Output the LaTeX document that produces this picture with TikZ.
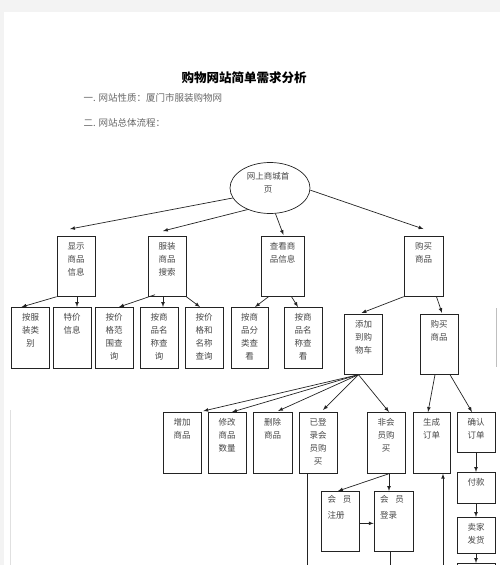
\documentclass[tikz,border=0pt]{standalone}
\usepackage{fontspec}
\newfontfamily\cjk{Noto Sans CJK SC}
\usepackage{tikz}
\usetikzlibrary{shapes,arrows,positioning,calc}
\definecolor{ink}{RGB}{35,35,35}
\definecolor{txt}{RGB}{70,70,70}
\definecolor{paper}{RGB}{243,243,243}

\begin{document}
\begin{tikzpicture}[x=1pt,y=-1pt,
        cell/.style={draw=ink, line width=0.7pt, anchor=north, align=center,
                     inner sep=0pt, text width=38pt, text height=13pt,
                     text depth=#1, text=txt,
                     font=\cjk\fontsize{8.5}{13}\selectfont},
        cell/.default=47pt,
        member/.style={cell, align=left, text width=26pt, inner xsep=6pt,
                       text height=11pt, text depth=49pt,
                       font=\cjk\fontsize{8.5}{16}\selectfont},
        link/.style={draw=ink, line width=0.7pt, -latex}]
    \useasboundingbox (0,0) rectangle (500,565);
    \clip (0,0) rectangle (500,565);
    % page
    \fill[paper] (0,0) rectangle (500,12);
    \fill[paper] (0,0) rectangle (4,565);
    \draw[black!12, line width=1pt] (10,410) -- (10,565);
    \draw[black!25, line width=1pt] (496,308) -- (496,367);

    % heading
    \node[font=\cjk\bfseries\fontsize{12.5}{14}\selectfont, text=black] (title) at (244,78) {购物网站简单需求分析};
    \node[anchor=west, font=\cjk\fontsize{9.5}{11}\selectfont, text=black!60] (nature) at (80,98) {一. 网站性质：厦门市服装购物网};
    \node[anchor=west, font=\cjk\fontsize{9.5}{11}\selectfont, text=black!60] (flow) at (80,123) {二. 网站总体流程：};

    % home page
    \node[draw=ink, line width=0.7pt, ellipse, minimum width=80pt, minimum height=51pt, inner sep=0pt] (home) at (270,188) {};
    \node[align=center, text=txt, font=\cjk\fontsize{8.5}{13}\selectfont] (hometext) at (268,182.5) {网上商城首\\页};

    % first level
    \node[cell] (show) at (76,236) {显示\\商品\\信息};
    \node[cell] (search) at (167,236) {服装\\商品\\搜索};
    \node[cell, text width=43pt] (view) at (282.5,236) {查看商\\品信息};
    \node[cell, text width=39pt] (buy) at (423.5,236) {购买\\商品};

    % second level
    \node[cell=48pt] (cat) at (30.5,307) {按服\\装类\\别};
    \node[cell=48pt] (sale) at (72,307) {特价\\信息};
    \node[cell=48pt] (price) at (114,307) {按价\\格范\\围查\\询};
    \node[cell=48pt] (name) at (159,307) {按商\\品名\\称查\\询};
    \node[cell=48pt] (both) at (204,307) {按价\\格和\\名称\\查询};
    \node[cell=48pt, text width=37pt] (vcat) at (249.5,307) {按商\\品分\\类查\\看};
    \node[cell=48pt] (vname) at (303,307) {按商\\品名\\称查\\看};
    \node[cell] (cart) at (363.5,314) {添加\\到购\\物车};
    \node[cell] (buytwo) at (439,314) {购买\\商品};

    % third level
    \node[cell=48pt] (add) at (182,412) {增加\\商品};
    \node[cell=48pt] (edit) at (227,412) {修改\\商品\\数量};
    \node[cell=48pt, text width=39pt] (del) at (272.5,412) {删除\\商品};
    \node[cell=48pt] (logged) at (318,412) {已登\\录会\\员购\\买};
    \node[cell=48pt] (guest) at (386,412) {非会\\员购\\买};
    \node[cell=48pt, text width=37pt] (order) at (431.5,412) {生成\\订单};
    \node[cell=27pt] (confirm) at (476,412) {确认\\订单};
    \node[cell=18pt] (pay) at (476,472) {付款};
    \node[cell=23pt] (ship) at (476,517) {卖家\\发货};
    \node[cell=40pt] (next) at (476,563) {};

    % members
    \node[member] (reg) at (340.5,491) {会\hspace{7pt}员\\注册};
    \node[member, text width=27pt] (login) at (393.5,491) {会\hspace{7pt}员\\登录};

    \coordinate (downA) at (307,570);
    \coordinate (downB) at (390,570);
    \coordinate (upC) at (443,570);

    % home page links
    \draw[link] (home.195) to ($(show.north)+(-6,-7)$);
    \draw[link] (home.224) to ($(search.north)+(-4,-5)$);
    \draw[link] (home.282) to ($(view.north)+(1,-1)$);
    \draw[link] (home.357) to ($(buy.north)+(0,-7)$);

    % first level links
    \draw[link] (show.south west) to ($(cat.north)+(-9,0)$);
    \draw[link] ($(show.south)+(1,0)$) to ($(sale.north)+(5,0)$);
    \draw[link] ($(search.south)+(-12,-2)$) to ($(price.north)+(5,0)$);
    \draw[link] ($(search.south)+(-4,0)$) to ($(name.north)+(4,0)$);
    \draw[link] (search.south east) to ($(both.north)+(-4,0)$);
    \draw[link] ($(view.south)+(-14,0)$) to ($(vcat.north)+(5.5,0)$);
    \draw[link] ($(view.south)+(9,0)$) to ($(vname.north)+(-5,0)$);
    \draw[link] (buy.south west) to ($(cart.north)+(-2,-1)$);
    \draw[link] ($(buy.south)+(13,0)$) to ($(buytwo.north)+(3,-1)$);

    % cart links
    \draw[link] ($(cart.south)+(-5,0)$) to ($(add.north east)+(2,-1)$);
    \draw[link] ($(cart.south)+(-5,0)$) to ($(edit.north)+(5,0)$);
    \draw[link] ($(cart.south)+(-5,0)$) to ($(del.north)+(5.5,-1)$);
    \draw[link] ($(cart.south)+(-5,0)$) to ($(logged.north)+(5,-2)$);
    \draw[link] ($(cart.south)+(-5,0)$) to ($(guest.north)+(3,0)$);
    \draw[link] ($(buytwo.south)+(-4,0)$) to ($(order.north)+(-3.5,0)$);
    \draw[link] ($(buytwo.south)+(11,0)$) to ($(confirm.north)+(-4,0)$);

    % order steps
    \draw[link] (confirm) to (pay);
    \draw[link] (pay) to (ship);
    \draw[link] (ship) to (next);
    \draw[link] (upC) to (upC |- order.south);

    % members links
    \draw[link] ($(guest.south)+(3,0)$) to ($(reg.north)+(-2.5,0)$);
    \draw[link] ($(guest.south)+(3,0)$) to ($(login.north)+(-4.5,0)$);
    \draw[link] ($(reg.east)+(0,2)$) to ($(login.west)+(0,2)$);
    \draw[draw=ink, line width=0.7pt] ($(logged.south)+(-11,0)$) to (downA);
    \draw[draw=ink, line width=0.7pt] ($(login.south)+(-3.5,0)$) to (downB);
\end{tikzpicture}
\end{document}
